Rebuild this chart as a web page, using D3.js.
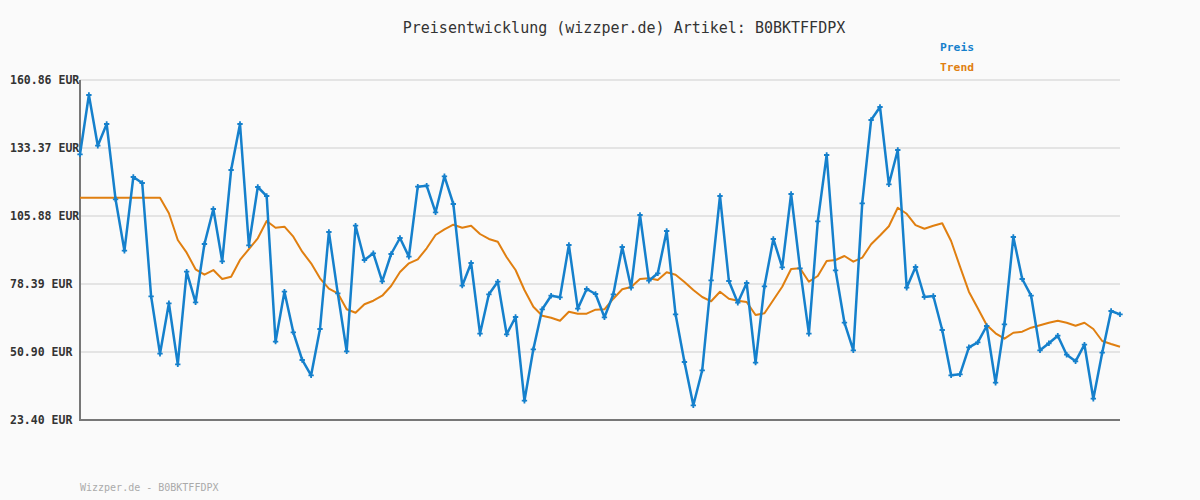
<!DOCTYPE html>
<html><head><meta charset="utf-8">
<script src="https://cdn.jsdelivr.net/npm/d3@7"></script>
<style>
html,body{margin:0;padding:0;background:#fafafa;}
svg{display:block;}
</style></head>
<body><svg id="c" width="1200" height="500"></svg>
<script>
const titleText = "Preisentwicklung (wizzper.de) Artikel: B0BKTFFDPX";
const footerText = "Wizzper.de - B0BKTFFDPX";
const seriesNames = ["Preis", "Trend"];
const yTicks = [23.40, 50.90, 78.39, 105.88, 133.37, 160.86];

const preis = [130.82,154.80,134.30,143.07,112.63,91.85,121.64,119.22,73.41,50.20,
70.58,45.92,83.36,70.99,94.56,108.71,87.56,124.47,143.07,94.03,
117.60,113.96,55.06,75.27,58.86,47.66,41.47,60.19,99.41,74.62,
51.17,101.95,88.09,90.80,79.48,90.51,96.98,89.42,117.72,118.13,
107.37,121.93,110.73,77.70,86.87,58.29,74.22,79.31,58.05,65.04,
31.20,51.98,68.16,73.65,73.01,94.15,68.40,76.36,74.34,64.92,
74.22,93.34,76.89,106.28,79.72,82.71,99.81,66.13,46.85,29.34,
43.49,79.88,113.96,79.60,70.82,78.79,46.57,77.45,96.58,85.14,
114.77,84.73,58.29,103.73,130.54,83.92,62.74,51.58,111.01,144.69,
149.94,118.69,132.56,76.89,85.26,73.13,73.53,59.79,41.47,41.88,
52.79,54.81,61.40,38.48,62.09,97.39,80.41,73.65,51.58,54.41,
57.48,49.80,47.13,53.84,32.01,50.61,67.47,66.13];

const trend = [113.28,113.28,113.28,113.28,113.28,113.28,113.28,113.28,113.28,113.28,
106.97,96.17,91.04,84.33,82.14,84.04,80.41,81.34,88.09,92.53,
96.86,103.85,101.15,101.55,97.51,91.44,86.75,80.69,76.48,74.62,
68.16,66.78,70.18,71.63,73.65,77.58,83.24,86.75,88.37,92.82,
98.19,100.50,102.36,101.15,101.95,98.60,96.58,95.49,89.18,84.04,
75.96,69.21,65.57,64.76,63.55,67.18,66.38,66.38,67.99,68.16,
72.44,76.24,77.17,80.41,80.69,80.00,83.11,82.14,79.19,75.96,
73.13,71.39,75.27,72.44,71.63,71.11,65.85,66.54,71.92,77.29,
84.45,84.73,79.31,81.62,87.68,88.09,89.70,87.40,89.02,94.43,
97.99,101.75,109.23,106.77,102.16,100.74,101.95,102.92,95.77,85.38,
75.27,68.56,61.81,58.45,56.27,58.69,59.10,60.72,61.69,62.74,
63.55,62.74,61.52,62.74,60.19,55.34,54.13,53.03];

const svg = d3.select("#c");
const W = 1200, H = 500;
const m = {left: 80, right: 80, top: 80, bottom: 80};
const blue = "#1580cc", orange = "#e07f10";
const mono = "'DejaVu Sans Mono', 'Liberation Mono', monospace";

svg.append("rect").attr("width", W).attr("height", H).attr("fill", "#fafafa");

const x = d3.scaleLinear().domain([0, preis.length - 1]).range([m.left, W - m.right]);
const y = d3.scaleLinear().domain([yTicks[0], yTicks[yTicks.length - 1]]).range([H - m.bottom, m.top]);

// grid
svg.append("g").selectAll("line").data(yTicks).join("line")
  .attr("x1", m.left).attr("x2", W - m.right)
  .attr("y1", d => y(d)).attr("y2", d => y(d))
  .attr("stroke", "#e4e4e4").attr("stroke-width", 2);

// y labels
svg.append("g").selectAll("text").data(yTicks).join("text")
  .attr("x", 10).attr("y", d => y(d) + 4)
  .attr("font-family", mono).attr("font-size", 11.5).attr("font-weight", "bold")
  .attr("fill", "#333")
  .text(d => d.toFixed(2) + " EUR");

// axes
svg.append("path")
  .attr("d", `M${m.left},${m.top}V${H - m.bottom}H${W - m.right}`)
  .attr("fill", "none").attr("stroke", "#777").attr("stroke-width", 2);

// trend
const line = d3.line().x((d, i) => x(i)).y(d => y(d));
svg.append("path").datum(trend).attr("d", line)
  .attr("fill", "none").attr("stroke", orange).attr("stroke-width", 2)
  .attr("stroke-linejoin", "round");

// preis
svg.append("path").datum(preis).attr("d", line)
  .attr("fill", "none").attr("stroke", blue).attr("stroke-width", 2.5)
  .attr("stroke-linejoin", "round");

const cross = d3.symbol().type(d3.symbolCross).size(16);
svg.append("g").selectAll("path").data(preis).join("path")
  .attr("transform", (d, i) => `translate(${x(i)},${y(d)})`)
  .attr("d", cross).attr("fill", blue);

// title
svg.append("text").attr("x", 624).attr("y", 33).attr("text-anchor", "middle")
  .attr("font-family", mono).attr("font-size", 15).attr("fill", "#333")
  .text(titleText);

// legend
svg.append("text").attr("x", 940).attr("y", 51)
  .attr("font-family", mono).attr("font-size", 11.3).attr("font-weight", "bold")
  .attr("fill", blue).text(seriesNames[0]);
svg.append("text").attr("x", 940).attr("y", 71)
  .attr("font-family", mono).attr("font-size", 11.3).attr("font-weight", "bold")
  .attr("fill", orange).text(seriesNames[1]);

// footer
svg.append("text").attr("x", 80).attr("y", 491)
  .attr("font-family", mono).attr("font-size", 10).attr("fill", "#aaa")
  .text(footerText);
</script>
</body></html>
